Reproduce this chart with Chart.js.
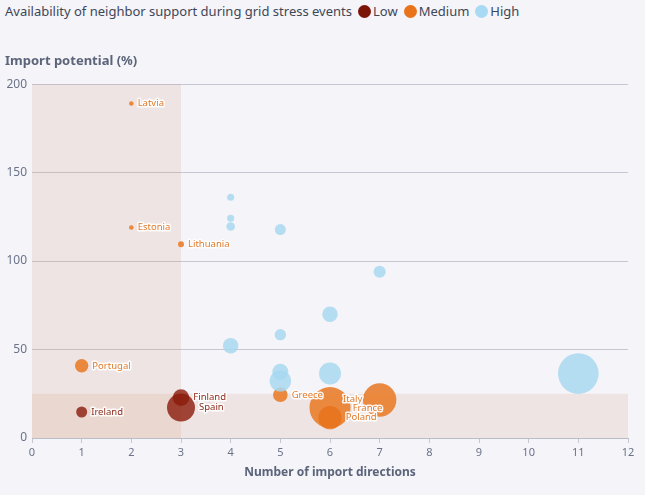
<!DOCTYPE html>
<html>
<head>
<meta charset="utf-8">
<script src="https://cdn.jsdelivr.net/npm/chart.js@4.4.1/dist/chart.umd.min.js"></script>
<style>
  body { margin: 0; background: #f4f4f9; font-family: "Noto Sans", sans-serif; }
  #wrap { position: relative; width: 645px; height: 495px; }
  #legend { position: absolute; left: 5px; top: 2px; display: flex; align-items: center; font-size: 13px; color: #3f4656; white-space: nowrap; }
  #legend .dot { display: inline-block; width: 13px; height: 13px; border-radius: 50%; margin: 0 2px 0 6px; }
  canvas { position: absolute; left: 0; top: 0; }
</style>
</head>
<body>
<div id="wrap">
  <div id="legend"><span>Availability of neighbor support during grid stress events</span></div>
  <canvas id="bubbleChart" width="645" height="495"></canvas>
</div>
<script>
// DATA
const categories = ["Low", "Medium", "High"];

const lowNames = ["Ireland", "Finland", "Spain"];
const lowDirections = [1, 3, 3];
const lowPotential = [14.7, 22.8, 17.2];
const lowSize = [5.5, 8.3, 14];

const mediumNames = ["Latvia", "Estonia", "Lithuania", "Portugal", "Greece", "Italy", "France", "Poland"];
const mediumDirections = [2, 2, 3, 1, 5, 6, 7, 6];
const mediumPotential = [189, 119, 109.5, 40.8, 24.4, 17.2, 21.5, 11.5];
const mediumSize = [2.3, 2.3, 3, 6.7, 7.3, 20.5, 16.7, 11.7];

const highDirections = [4, 4, 4, 5, 7, 6, 5, 4, 5, 5, 6, 11];
const highPotential = [136.1, 124.2, 119.5, 117.8, 93.9, 69.9, 58.4, 52.1, 37.4, 32.3, 36.4, 36.4];
const highSize = [3.5, 3.5, 4.3, 5.5, 6, 7.7, 5.7, 7.7, 8, 10.7, 11, 20.3];

// thresholds of the shaded zones
const directionThreshold = 3;
const potentialThreshold = 25;

// STYLE
const FONT = "'Noto Sans', sans-serif";
const colors = {
  Low: { dot: "#7b1508", fill: "rgba(139, 26, 10, 0.8)", text: "#8e2a1a" },
  Medium: { dot: "#e8731a", fill: "rgba(232, 115, 26, 0.82)", text: "#e07a2c" },
  High: { dot: "#a8daf3", fill: "rgba(168, 216, 240, 0.85)", text: "#7fb8d8" }
};

// custom label shifts where labels would collide
const labelShift = { Italy: [13, -8], France: [-27, 8] };

function toPoints(xs, ys, rs) {
  return xs.map((x, i) => ({ x, y: ys[i], r: rs[i] }));
}

// ================================
// HTML legend
// ================================
const legendEl = document.getElementById("legend");
categories.forEach(cat => {
  const dot = document.createElement("span");
  dot.className = "dot";
  dot.style.background = colors[cat].dot;
  legendEl.appendChild(dot);
  const txt = document.createElement("span");
  txt.textContent = cat;
  legendEl.appendChild(txt);
});

// ================================
// Plugins
// ================================
const zonePlugin = {
  id: "zones",
  beforeDatasetsDraw(chart) {
    const { ctx, chartArea, scales: { x, y } } = chart;
    ctx.save();
    ctx.fillStyle = "rgba(205, 140, 100, 0.15)";
    const x0 = x.getPixelForValue(0), x3 = x.getPixelForValue(directionThreshold);
    ctx.fillRect(x0, chartArea.top, x3 - x0, chartArea.bottom - chartArea.top);
    const y25 = y.getPixelForValue(potentialThreshold);
    ctx.fillRect(chartArea.left, y25, chartArea.right - chartArea.left, chartArea.bottom - y25);
    ctx.restore();
  }
};

const labelPlugin = {
  id: "pointLabels",
  afterDatasetsDraw(chart) {
    const { ctx } = chart;
    ctx.save();
    ctx.font = "9.5px " + FONT;
    ctx.textBaseline = "middle";
    ctx.textAlign = "left";
    ctx.lineJoin = "round";
    chart.data.datasets.forEach((ds, di) => {
      if (!ds.names) return;
      const meta = chart.getDatasetMeta(di);
      meta.data.forEach((el, i) => {
        const name = ds.names[i];
        if (!name) return;
        const r = ds.data[i].r;
        const shift = labelShift[name] || [r + 4, 0];
        const px = el.x + shift[0], py = el.y + shift[1];
        ctx.strokeStyle = "rgba(255,255,255,0.9)";
        ctx.lineWidth = 3;
        ctx.strokeText(name, px, py);
        ctx.fillStyle = colors[ds.label].text;
        ctx.fillText(name, px, py);
      });
    });
    ctx.restore();
  }
};

// ================================
// Chart
// ================================
new Chart(document.getElementById("bubbleChart"), {
  type: "bubble",
  data: {
    datasets: [
      { label: "High", data: toPoints(highDirections, highPotential, highSize),
        backgroundColor: colors.High.fill, borderWidth: 0 },
      { label: "Low", names: lowNames, data: toPoints(lowDirections, lowPotential, lowSize),
        backgroundColor: colors.Low.fill, borderWidth: 0 },
      { label: "Medium", names: mediumNames, data: toPoints(mediumDirections, mediumPotential, mediumSize),
        backgroundColor: colors.Medium.fill, borderWidth: 0 }
    ]
  },
  options: {
    responsive: false,
    animation: false,
    devicePixelRatio: 1,
    layout: { autoPadding: false, padding: { top: 53, left: 5, right: 17, bottom: 0 } },
    plugins: {
      legend: { display: false },
      tooltip: { enabled: false },
      title: {
        display: true,
        text: "Import potential (%)",
        align: "start",
        color: "#5b6479",
        font: { family: FONT, size: 13, weight: "bold" },
        padding: { top: 0, bottom: 15.5 }
      }
    },
    scales: {
      x: {
        type: "linear", min: 0, max: 12,
        ticks: { stepSize: 1, color: "#6b7389", font: { family: FONT, size: 11 }, padding: 3 },
        grid: { drawOnChartArea: false, drawTicks: true, tickLength: 5, color: "#c5c8d2" },
        border: { color: "#b9bdc9" },
        title: {
          display: true, text: "Number of import directions", color: "#5b6479",
          font: { family: FONT, size: 12, weight: "bold" }, padding: { top: 4, bottom: 15 }
        },
        afterFit(s) { s.height = 57; s.paddingLeft = 0; s.paddingRight = 0; }
      },
      y: {
        min: 0, max: 200,
        ticks: { stepSize: 50, color: "#6b7389", font: { family: FONT, size: 12 }, padding: 5 },
        grid: { color: "#c5c8d2", drawTicks: false },
        border: { display: false },
        afterFit(s) { s.width = 27; s.paddingTop = 0; s.paddingBottom = 0; }
      }
    }
  },
  plugins: [zonePlugin, labelPlugin]
});
</script>
</body>
</html>
